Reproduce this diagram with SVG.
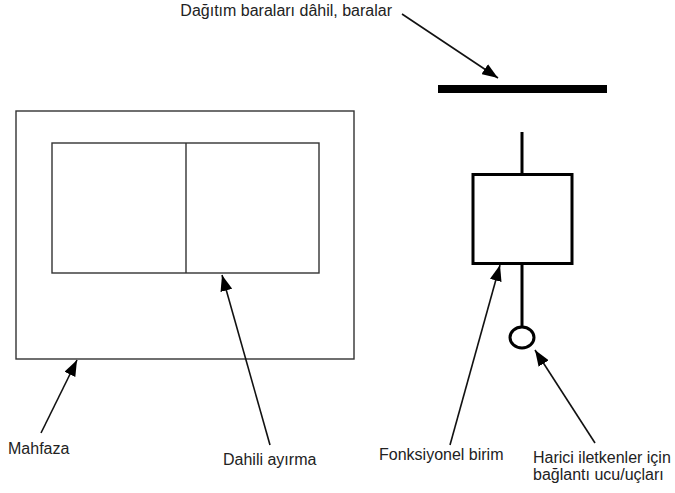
<svg xmlns="http://www.w3.org/2000/svg" width="675" height="493" viewBox="0 0 675 493">
<style>
text{font-family:"Liberation Sans",Arial,sans-serif;font-size:16px;fill:#222}
.thin{fill:none;stroke:#333;stroke-width:1.4}
.thick{fill:none;stroke:#000;stroke-width:3}
.lead{fill:none;stroke:#111;stroke-width:1.6}
</style>
<defs>
<marker id="ah" viewBox="0 0 16 12" refX="16" refY="6" markerWidth="16" markerHeight="12" markerUnits="userSpaceOnUse" orient="auto">
<path d="M0,0 L16,6 L0,12 Z" fill="#000"/>
</marker>
</defs>
<rect width="675" height="493" fill="#fff"/>
<g id="mahfaza">
<rect class="thin" x="16" y="111" width="338" height="248"/>
</g>
<g id="dahili-ayirma">
<rect class="thin" x="52" y="143" width="267" height="130"/>
<line class="thin" x1="186" y1="143" x2="186" y2="273"/>
</g>
<g id="baralar">
<rect x="438" y="85" width="169" height="8" fill="#000"/>
</g>
<g id="fonksiyonel-birim">
<line class="thick" x1="522" y1="132" x2="522" y2="174"/>
<rect class="thick" x="473" y="174.5" width="99" height="89"/>
<line class="thick" x1="522" y1="263" x2="522" y2="327"/>
</g>
<g id="baglanti-ucu">
<ellipse class="thick" cx="522" cy="337.5" rx="12" ry="10.5"/>
</g>
<g id="connectors">
<line class="lead" x1="402" y1="14" x2="498" y2="78" marker-end="url(#ah)"/>
<line class="lead" x1="41" y1="433" x2="77" y2="360" marker-end="url(#ah)"/>
<line class="lead" x1="270" y1="445" x2="222" y2="275" marker-end="url(#ah)"/>
<line class="lead" x1="450" y1="445" x2="500" y2="265" marker-end="url(#ah)"/>
<line class="lead" x1="595" y1="443" x2="535" y2="350" marker-end="url(#ah)"/>
</g>
<g id="labels">
<text x="392" y="16" text-anchor="end">Dağıtım baraları dâhil,  baralar</text>
<text x="8" y="454">Mahfaza</text>
<text x="223" y="465">Dahili ayırma</text>
<text x="379" y="460">Fonksiyonel birim</text>
<text x="533" y="463">Harici iletkenler için</text>
<text x="533" y="480">bağlantı ucu/uçları</text>
</g>
</svg>
